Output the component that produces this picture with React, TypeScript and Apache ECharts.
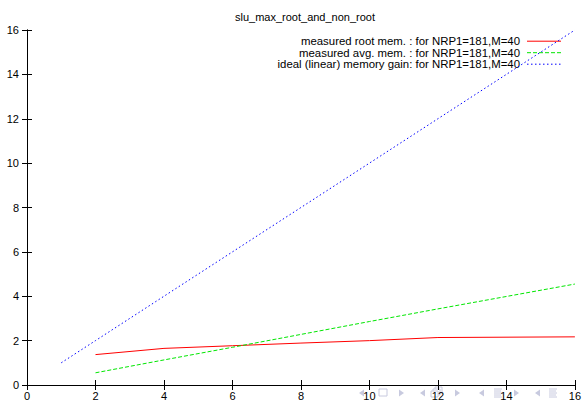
import React, { useEffect, useRef } from "react";
import * as echarts from "echarts";

const titleText = "slu_max_root_and_non_root";
const xMeasured = [2, 4, 6, 8, 10, 12, 16];
const rootMem = [1.37, 1.65, 1.77, 1.89, 2.0, 2.14, 2.17];
const avgMem = [0.55, 1.13, 1.7, 2.28, 2.86, 3.43, 4.55];
const xIdeal = [1, 2, 4, 8, 16];
const idealGain = [1, 2, 4, 8, 16];
const legendLabels = [
  "measured root mem. : for NRP1=181,M=40",
  "measured avg. mem. : for NRP1=181,M=40",
  "ideal (linear) memory gain: for NRP1=181,M=40",
];

const FONT = "Liberation Sans, Arial, sans-serif";
const NAV = "#c8cadf";

function tri(x: number, y: number, dir: number) {
  return {
    type: "polygon",
    shape: {
      points: dir < 0
        ? [[x + 3, y - 3.5], [x + 3, y + 3.5], [x - 2, y]]
        : [[x - 3, y - 3.5], [x - 3, y + 3.5], [x + 2, y]],
    },
    style: { fill: NAV },
    silent: true,
  };
}
function lines3(x: number, y: number) {
  const out: any[] = [];
  for (let i = -2; i <= 2; i++) {
    out.push({
      type: "line",
      shape: { x1: x - 4, y1: y + i * 2, x2: x + 4 - (i % 2 === 0 ? 0 : 1), y2: y + i * 2 },
      style: { stroke: NAV, lineWidth: 1 },
      silent: true,
    });
  }
  return out;
}

export default function App() {
  const ref = useRef<HTMLDivElement>(null);
  useEffect(() => {
    if (!ref.current) return;
    const chart = echarts.init(ref.current, null, { renderer: "svg" });
    const colors = ["#ff0000", "#00e600", "#0000ff"];
    const dashes: any[] = [null, [4, 2], [1.5, 2.5]];
    const legendGraphics: any[] = [];
    legendLabels.forEach((t, i) => {
      const y = 41.2 + i * 11.5;
      legendGraphics.push({
        type: "text",
        x: 520,
        y,
        style: {
          text: t,
          font: `11.4px ${FONT}`,
          lineHeight: 11.4,
          fill: "#000",
          align: "right",
          verticalAlign: "middle",
        },
        silent: true,
      });
      legendGraphics.push({
        type: "line",
        shape: { x1: 527, y1: y, x2: 561, y2: y },
        style: { stroke: colors[i], lineWidth: 1, lineDash: dashes[i] || undefined },
        silent: true,
      });
    });
    const nav: any[] = [
      tri(361, 393, -1),
      { type: "rect", shape: { x: 379, y: 389, width: 8, height: 7 }, style: { fill: "none", stroke: NAV, lineWidth: 1 }, silent: true },
      tri(402, 393, 1),
      tri(422, 393, -1),
      { type: "rect", shape: { x: 435, y: 387, width: 7, height: 6 }, style: { fill: "none", stroke: NAV, lineWidth: 1 }, silent: true },
      { type: "rect", shape: { x: 433, y: 389, width: 7, height: 6 }, style: { fill: "#fff", stroke: NAV, lineWidth: 1 }, silent: true },
      { type: "rect", shape: { x: 431, y: 391, width: 7, height: 6 }, style: { fill: "#fff", stroke: NAV, lineWidth: 1 }, silent: true },
      tri(458, 393, 1),
      tri(481, 393, -1),
      ...lines3(498, 393),
      tri(517, 393, 1),
      tri(537, 393, -1),
      ...lines3(553, 393),
    ];
    const axisCommon = {
      type: "value" as const,
      axisLine: { show: true, lineStyle: { color: "#000", width: 1 } },
      axisTick: { show: true, inside: true, length: 5, lineStyle: { color: "#000" } },
      splitLine: { show: false },
    };
    chart.setOption({
      animation: false,
      backgroundColor: "#fff",
      title: {
        text: titleText,
        left: 300,
        top: 6,
        textAlign: "center",
        textStyle: { fontSize: 11, fontWeight: "normal", color: "#000", fontFamily: FONT },
      },
      grid: { left: 27, right: 8, top: 30, bottom: 18, containLabel: false },
      xAxis: [
        {
          ...axisCommon,
          min: 0,
          max: 16,
          interval: 2,
          position: "bottom",
          axisLabel: { fontSize: 11, color: "#000", fontFamily: FONT, margin: 5 },
        },
        {
          ...axisCommon,
          min: 0,
          max: 16,
          interval: 2,
          position: "top",
          axisLabel: { show: false },
        },
      ],
      yAxis: [
        {
          ...axisCommon,
          min: 0,
          max: 16,
          interval: 2,
          position: "left",
          axisLabel: { fontSize: 11, color: "#000", fontFamily: FONT, margin: 8 },
        },
        {
          ...axisCommon,
          min: 0,
          max: 16,
          interval: 2,
          position: "right",
          axisLabel: { show: false },
        },
      ],
      series: [
        {
          name: legendLabels[0],
          type: "line",
          data: xMeasured.map((x, i) => [x, rootMem[i]]),
          symbol: "none",
          lineStyle: { color: colors[0], width: 1 },
        },
        {
          name: legendLabels[1],
          type: "line",
          data: xMeasured.map((x, i) => [x, avgMem[i]]),
          symbol: "none",
          lineStyle: { color: colors[1], width: 1, type: [4, 2] },
        },
        {
          name: legendLabels[2],
          type: "line",
          data: xIdeal.map((x, i) => [x, idealGain[i]]),
          symbol: "none",
          lineStyle: { color: colors[2], width: 1, type: [1.5, 2.5] },
        },
      ],
      graphic: [...legendGraphics, ...nav],
    });
    return () => chart.dispose();
  }, []);
  return (
    <div
      ref={ref}
      style={{ position: "fixed", left: 0, top: 0, width: 584, height: 403, background: "#fff" }}
    />
  );
}
